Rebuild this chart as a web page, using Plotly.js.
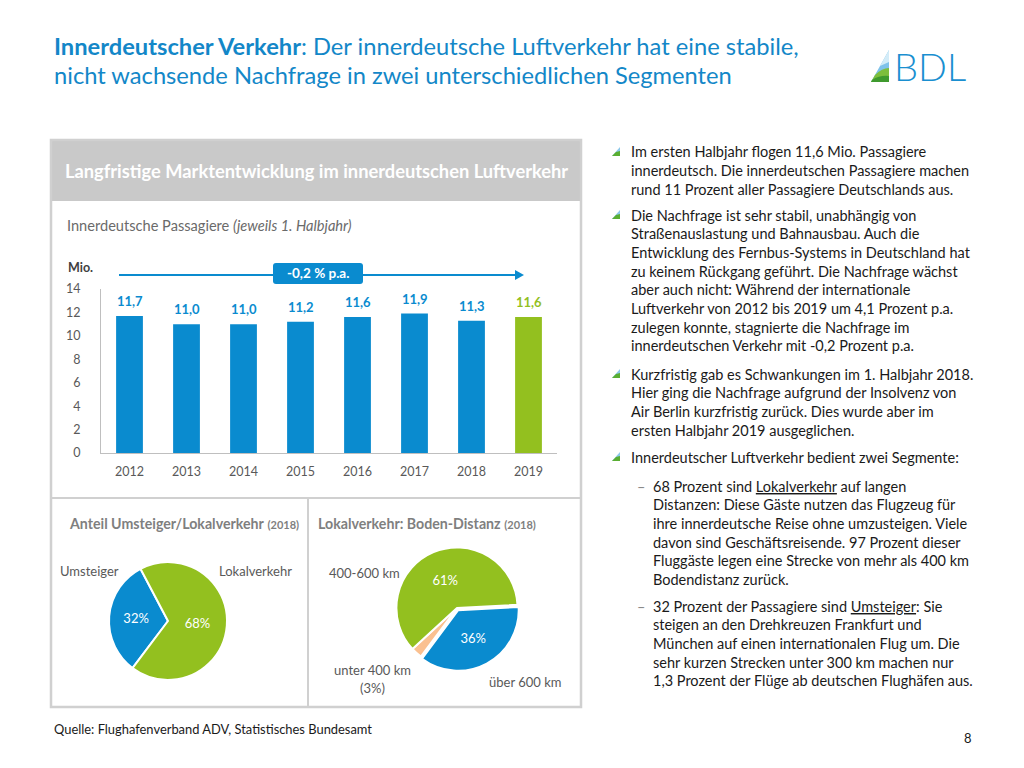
<!DOCTYPE html>
<html><head><meta charset="utf-8">
<script src="https://cdn.plot.ly/plotly-3.0.1.min.js"></script>
<style>html,body{margin:0;padding:0;background:#fff;} #chart{width:1024px;height:768px;}</style>
</head><body><div id="chart"></div>
<script>
// ---------- data ----------
const years = ['2012','2013','2014','2015','2016','2017','2018','2019'];
const passengers = [11.7, 11.0, 11.0, 11.2, 11.6, 11.9, 11.3, 11.6];
const yTicks = [0, 2, 4, 6, 8, 10, 12, 14];
const segLabels = ['Umsteiger', 'Lokalverkehr'];
const segValues = [32, 68];
const distLabels = ['über 600 km', 'unter 400 km', '400-600 km'];
const distValues = [36, 3, 61];
const trendLabel = '-0,2 % p.a.';

// ---------- texts ----------
const titleLine1 = '<b>Innerdeutscher Verkehr</b>: Der innerdeutsche Luftverkehr hat eine stabile,';
const titleLine2 = 'nicht wachsende Nachfrage in zwei unterschiedlichen Segmenten';
const bullets = [
  ['Im ersten Halbjahr flogen 11,6 Mio. Passagiere',
   'innerdeutsch. Die innerdeutschen Passagiere machen',
   'rund 11 Prozent aller Passagiere Deutschlands aus.'],
  ['Die Nachfrage ist sehr stabil, unabhängig von',
   'Straßenauslastung und Bahnausbau. Auch die',
   'Entwicklung des Fernbus-Systems in Deutschland hat',
   'zu keinem Rückgang geführt. Die Nachfrage wächst',
   'aber auch nicht: Während der internationale',
   'Luftverkehr von 2012 bis 2019 um 4,1 Prozent p.a.',
   'zulegen konnte, stagnierte die Nachfrage im',
   'innerdeutschen Verkehr mit -0,2 Prozent p.a.'],
  ['Kurzfristig gab es Schwankungen im 1. Halbjahr 2018.',
   'Hier ging die Nachfrage aufgrund der Insolvenz von',
   'Air Berlin kurzfristig zurück. Dies wurde aber im',
   'ersten Halbjahr 2019 ausgeglichen.'],
  ['Innerdeutscher Luftverkehr bedient zwei Segmente:']
];
const bulletY = [152, 215, 374, 457];
const subBullets = [
  ['68 Prozent sind <u>Lokalverkehr</u> auf langen',
   'Distanzen: Diese Gäste nutzen das Flugzeug für',
   'ihre innerdeutsche Reise ohne umzusteigen. Viele',
   'davon sind Geschäftsreisende. 97 Prozent dieser',
   'Fluggäste legen eine Strecke von mehr als 400 km',
   'Bodendistanz zurück.'],
  ['32 Prozent der Passagiere sind <u>Umsteiger</u>: Sie',
   'steigen an den Drehkreuzen Frankfurt und',
   'München auf einen internationalen Flug um. Die',
   'sehr kurzen Strecken unter 300 km machen nur',
   '1,3 Prozent der Flüge ab deutschen Flughäfen aus.']
];
const subY = [486, 606];

// ---------- helpers ----------
const W = 1024, H = 768;
const px = x => x / W;
const py = y => 1 - y / H;
const FONT = 'Lato, "Open Sans", sans-serif';
const BLUE = '#0A8BCF';
const GREEN = '#93C01F';
const GREY_TXT = '#595959';
const TITLE_BLUE = '#1387C8';
const BORDER = '#D0D0D0';
const BODY = 14.5;

const ann = [];
function txt(x, y, text, opts) {
  opts = opts || {};
  ann.push(Object.assign({
    xref: 'paper', yref: 'paper', x: px(x), y: py(y), text: text,
    showarrow: false, xanchor: 'left', yanchor: 'middle',
    font: {family: FONT, size: BODY, color: '#1A1A1A'}
  }, opts));
}

// title
txt(52, 46, titleLine1, {font: {family: FONT, size: 23.7, color: TITLE_BLUE}});
txt(52, 75, titleLine2, {font: {family: FONT, size: 23.7, color: TITLE_BLUE}});
// logo text
txt(892, 66, 'BDL', {font: {family: FONT, size: 38, color: '#1A8FD0', weight: 300}});

// header of panel
txt(316, 171, '<b>Langfristige Marktentwicklung im innerdeutschen Luftverkehr</b>',
  {xanchor: 'center', font: {family: FONT, size: 18.3, color: '#FFFFFF'}});
txt(65, 225, 'Innerdeutsche Passagiere <i>(jeweils 1. Halbjahr)</i>',
  {font: {family: FONT, size: 14.6, color: '#6A6A6A'}});
txt(66, 267, '<b>Mio.</b>', {font: {family: FONT, size: 12.5, color: '#404040'}});

// trend label
txt(318, 273, '<b>' + trendLabel + '</b>', {xanchor: 'center', font: {family: FONT, size: 13.5, color: '#FFFFFF'}});

// bar value labels (category index positions)
passengers.forEach((v, i) => {
  ann.push({
    xref: 'x', yref: 'y', x: i, y: v, yanchor: 'bottom', yshift: 5, showarrow: false,
    text: '<b>' + v.toFixed(1).replace('.', ',') + '</b>',
    font: {family: FONT, size: 13, color: i === years.length - 1 ? GREEN : BLUE}
  });
});

// pie titles
txt(67, 523, '<b>Anteil Umsteiger/Lokalverkehr</b> <span style="font-size:11px"><b>(2018)</b></span>',
  {font: {family: FONT, size: 14.2, color: '#7F7F7F'}});
txt(316, 523, '<b>Lokalverkehr: Boden-Distanz</b> <span style="font-size:11px"><b>(2018)</b></span>',
  {font: {family: FONT, size: 14.2, color: '#7F7F7F'}});

// pie outside labels
const pl = {font: {family: FONT, size: 13, color: GREY_TXT}};
txt(58, 571, segLabels[0], pl);
txt(217, 571, segLabels[1], pl);
txt(327, 573, distLabels[2], pl);
txt(372, 670, distLabels[1], Object.assign({xanchor: 'center'}, pl));
txt(372, 688, '(' + distValues[1] + '%)', Object.assign({xanchor: 'center'}, pl));
txt(487, 682, distLabels[0], pl);

// right column text
const STEP = 18.7;
const shapes = [];
bullets.forEach((lines, b) => {
  lines.forEach((l, k) => txt(629, bulletY[b] + k * STEP, l));
  const y = bulletY[b];
  shapes.push({type: 'path', xref: 'paper', yref: 'paper',
    path: `M ${px(612)} ${py(y+4)} L ${px(620)} ${py(y-5)} L ${px(620)} ${py(y+4)} Z`,
    fillcolor: '#8CC8EA', line: {width: 0}});
  shapes.push({type: 'path', xref: 'paper', yref: 'paper',
    path: `M ${px(612)} ${py(y+4)} L ${px(616)} ${py(y)} L ${px(620)} ${py(y-1)} L ${px(620)} ${py(y+4)} Z`,
    fillcolor: '#5AAE32', line: {width: 0}});
});
subBullets.forEach((lines, s) => {
  txt(635, subY[s], '–', {font: {family: FONT, size: BODY, color: '#8A8A8A'}});
  lines.forEach((l, k) => txt(651, subY[s] + k * STEP, l));
});

// footer
txt(52, 729, 'Quelle: Flughafenverband ADV, Statistisches Bundesamt', {font: {family: FONT, size: 12.9, color: '#1A1A1A'}});
txt(974, 738, '8', {xanchor: 'right', font: {family: FONT, size: 13, color: '#1A1A1A'}});

// ---------- shapes ----------
function rect(x0, y0, x1, y1, fill, line) {
  shapes.push({type: 'rect', xref: 'paper', yref: 'paper', x0: px(x0), x1: px(x1), y0: py(y1), y1: py(y0),
    fillcolor: fill || 'rgba(0,0,0,0)', line: line || {width: 0}, layer: 'below'});
}
function seg(x0, y0, x1, y1, color, width) {
  shapes.push({type: 'line', xref: 'paper', yref: 'paper', x0: px(x0), x1: px(x1), y0: py(y0), y1: py(y1),
    line: {color: color, width: width}});
}
rect(51, 140, 581, 201, '#C9C9C9');
rect(51, 140, 581, 707, null, {color: BORDER, width: 2.5});
seg(51, 498, 581, 498, BORDER, 2);
seg(308, 498, 308, 707, BORDER, 2);

// trend arrow
seg(119, 275, 518, 275, BLUE, 2);
shapes.push({type: 'path', xref: 'paper', yref: 'paper',
  path: `M ${px(515)} ${py(270)} L ${px(524)} ${py(275)} L ${px(515)} ${py(280)} Z`, fillcolor: BLUE, line: {width: 0}});
(function () {
  const x0 = 273, x1 = 363, y0 = 263, y1 = 284, r = 3;
  const p = `M ${px(x0+r)} ${py(y0)} L ${px(x1-r)} ${py(y0)} Q ${px(x1)} ${py(y0)} ${px(x1)} ${py(y0+r)} ` +
    `L ${px(x1)} ${py(y1-r)} Q ${px(x1)} ${py(y1)} ${px(x1-r)} ${py(y1)} L ${px(x0+r)} ${py(y1)} ` +
    `Q ${px(x0)} ${py(y1)} ${px(x0)} ${py(y1-r)} L ${px(x0)} ${py(y0+r)} Q ${px(x0)} ${py(y0)} ${px(x0+r)} ${py(y0)} Z`;
  shapes.push({type: 'path', xref: 'paper', yref: 'paper', path: p, fillcolor: BLUE, line: {width: 0}});
})();

// logo
shapes.push({type: 'path', xref: 'paper', yref: 'paper',
  path: `M ${px(871)} ${py(82)} L ${px(889)} ${py(50)} L ${px(889)} ${py(82)} Z`, fillcolor: '#7FC2EA', line: {width: 0}});
shapes.push({type: 'path', xref: 'paper', yref: 'paper',
  path: `M ${px(880)} ${py(66)} L ${px(889)} ${py(50)} L ${px(889)} ${py(62)} Z`, fillcolor: '#D3ECF8', line: {width: 0}});
shapes.push({type: 'path', xref: 'paper', yref: 'paper',
  path: `M ${px(875)} ${py(75)} Q ${px(882)} ${py(68)} ${px(889)} ${py(68)} L ${px(889)} ${py(82)} L ${px(871)} ${py(82)} Z`,
  fillcolor: '#7DBE3C', line: {width: 0}});
shapes.push({type: 'path', xref: 'paper', yref: 'paper',
  path: `M ${px(872)} ${py(80)} Q ${px(880)} ${py(75)} ${px(889)} ${py(76)} L ${px(889)} ${py(82)} L ${px(871)} ${py(82)} Z`,
  fillcolor: '#3F9A2E', line: {width: 0}});

// ---------- traces ----------
const traces = [
  {
    type: 'bar', x: years, y: passengers, xaxis: 'x', yaxis: 'y', width: 0.47,
    marker: {color: years.map((_, i) => i === years.length - 1 ? GREEN : BLUE)},
    hoverinfo: 'none'
  },
  {
    type: 'pie', labels: segLabels, values: segValues, sort: false, direction: 'clockwise', rotation: -143,
    domain: {x: [px(109), px(227)], y: [py(680), py(562)]},
    marker: {colors: [BLUE, GREEN], line: {color: '#FFFFFF', width: 2}},
    texttemplate: '%{percent:.0%}', textposition: 'inside', insidetextorientation: 'horizontal',
    textfont: {family: FONT, size: 13, color: '#FFFFFF'}, hoverinfo: 'none'
  },
  {
    type: 'pie', labels: distLabels, values: distValues, sort: false, direction: 'clockwise', rotation: 87,
    pull: [0.04, 0, 0],
    domain: {x: [px(394), px(520)], y: [py(671), py(545)]},
    marker: {colors: [BLUE, '#FAC090', GREEN], line: {color: '#FFFFFF', width: 2}},
    text: distValues.map(v => v >= 10 ? v + '%' : ''), textinfo: 'text', textposition: 'inside',
    insidetextorientation: 'horizontal',
    textfont: {family: FONT, size: 13, color: '#FFFFFF'}, hoverinfo: 'none'
  }
];

const layout = {
  width: W, height: H, margin: {l: 0, r: 0, t: 0, b: 0},
  paper_bgcolor: '#FFFFFF', plot_bgcolor: 'rgba(0,0,0,0)',
  showlegend: false, separators: ',.',
  font: {family: FONT},
  xaxis: {
    domain: [px(101), px(557)], type: 'category', range: [-0.5, 7.5],
    showline: true, linecolor: '#BFBFBF', linewidth: 1,
    ticks: 'outside', ticklen: 7, tickcolor: 'rgba(0,0,0,0)',
    tickfont: {family: FONT, size: 12.5, color: GREY_TXT}, showgrid: false, fixedrange: true
  },
  yaxis: {
    domain: [py(453), py(289)], range: [0, 14], tickvals: yTicks,
    showline: true, linecolor: '#BFBFBF', linewidth: 1,
    ticks: 'outside', ticklen: 17, tickcolor: 'rgba(0,0,0,0)',
    tickfont: {family: FONT, size: 12.5, color: GREY_TXT}, showgrid: false, zeroline: false, fixedrange: true
  },
  annotations: ann,
  shapes: shapes
};

Plotly.newPlot('chart', traces, layout, {staticPlot: true, displayModeBar: false});
</script>
</body></html>
